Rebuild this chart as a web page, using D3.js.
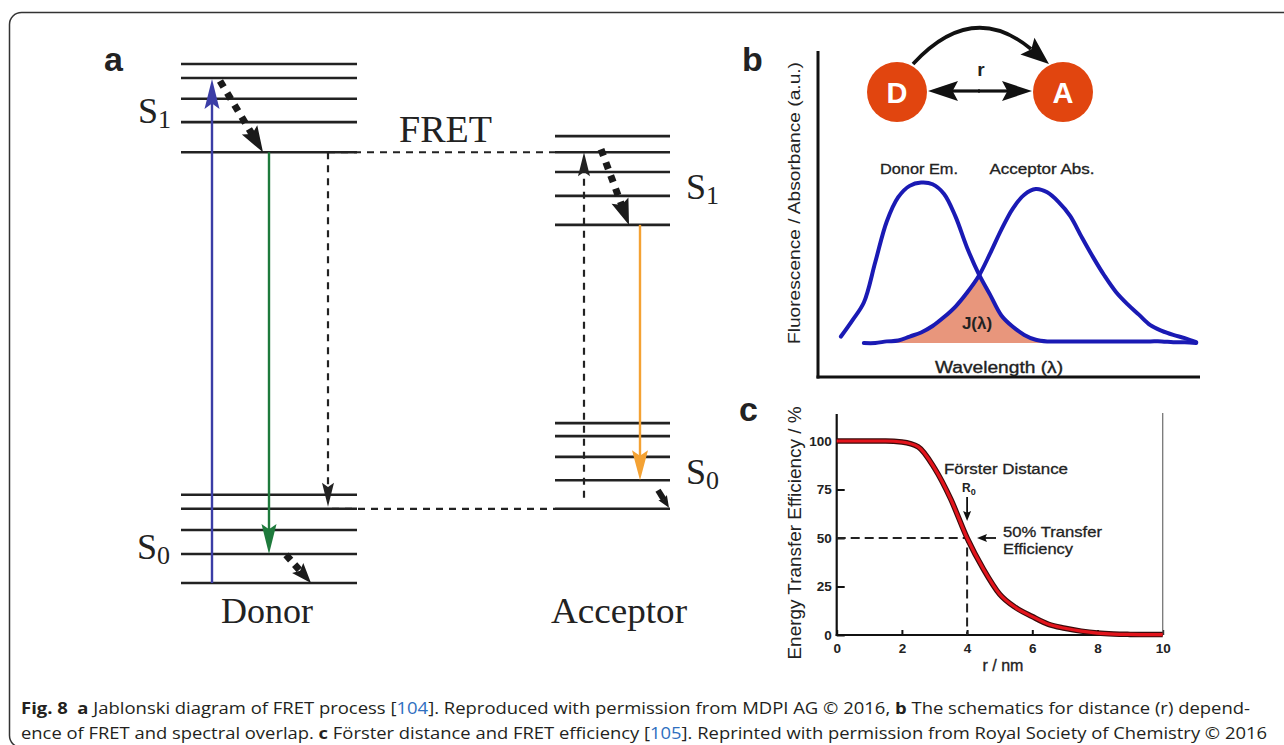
<!DOCTYPE html>
<html>
<head>
<meta charset="utf-8">
<script src="https://cdn.jsdelivr.net/npm/d3@7"></script>
<style>
  body { margin: 0; background: #fff; }
  svg text { font-family: "Liberation Sans", Arial, sans-serif; fill: #222; }
  .serif { font-family: "Liberation Serif", "Times New Roman", serif; }
</style>
</head>
<body>
<div id="container"></div>
<script>
/* DATA */

// panel a : energy levels (arbitrary energy units)
var donorS1 = [10.0, 9.73, 9.33, 8.88, 8.30];
var donorS0 = [1.70, 1.43, 1.02, 0.56, 0];
var acceptorS1 = [8.61, 8.30, 7.92, 7.46, 6.90];
var acceptorS0 = [3.08, 2.83, 2.43, 1.98, 1.43];

// panel b : spectra (arbitrary wavelength / intensity)
var wavelength = [6, 9, 12, 15, 18, 21, 24, 27, 30, 33, 36, 39, 42, 45, 48, 51,
                  54, 57, 60, 63, 66, 69, 72, 75, 78, 81, 84, 87, 90, 93, 96, 99];
var donorEm = [0.04, 0.14, 0.25, 0.50, 0.75, 0.90, 0.97, 0.99, 0.98, 0.92, 0.78, 0.59,
               0.43, 0.30, 0.17, 0.10, 0.05, 0.02, 0.01, 0.01, 0.01, 0.01, 0.01, 0.01,
               0.01, 0.01, 0.01, 0.01, 0.01, 0.005, 0.005, 0.0];
var acceptorAbs = [null, null, 0.0, 0.0, 0.01, 0.015, 0.04, 0.065, 0.105, 0.16, 0.225, 0.31,
                   0.41, 0.55, 0.70, 0.83, 0.915, 0.95, 0.93, 0.87, 0.785, 0.655, 0.53, 0.415,
                   0.315, 0.24, 0.175, 0.11, 0.075, 0.05, 0.03, 0.005];

// panel c : FRET efficiency vs distance
var distance = [0, 0.5, 1, 1.5, 2, 2.5, 3, 3.5, 4, 4.5, 5, 5.5, 6, 6.5, 7, 7.5, 8, 8.5, 9, 9.5, 10];
var efficiency = [100, 100, 100, 100, 99.5, 97, 86, 70, 50, 34, 21, 14, 9.5, 5.5, 3.5, 2, 1, 0.5, 0.3, 0.2, 0.2];
var xTicksC = [0, 2, 4, 6, 8, 10];
var yTicksC = [0, 25, 50, 75, 100];
var r0 = 4;

// caption
var captionLine1 = [
  { t: "Fig. 8", b: true }, { t: "\u00a0\u00a0" }, { t: "a", b: true },
  { t: " Jablonski diagram of FRET process [" }, { t: "104", link: true },
  { t: "]. Reproduced with permission from MDPI AG \u00a9 2016, " }, { t: "b", b: true },
  { t: " The schematics for distance (r) depend-" }
];
var captionLine2 = [
  { t: "ence of FRET and spectral overlap. " }, { t: "c", b: true },
  { t: " F\u00f6rster distance and FRET efficiency [" }, { t: "105", link: true },
  { t: "]. Reprinted with permission from Royal Society of Chemistry \u00a9 2016" }
];

/* HELPERS */

function arrowHead(g, tip, dir, len, wid, color) {
  var c = Math.cos(dir), s = Math.sin(dir);
  var pts = [[0, 0], [-len, -wid / 2], [-len * 0.82, 0], [-len, wid / 2]];
  var p = pts.map(function(d) { return [tip[0] + d[0] * c - d[1] * s, tip[1] + d[0] * s + d[1] * c]; });
  g.append("path").attr("d", "M" + p.join("L") + "Z").attr("fill", color);
}

// line from a to b with a head at b
function arrow(g, a, b, o) {
  var dir = Math.atan2(b[1] - a[1], b[0] - a[0]);
  var back = o.len * 0.8;
  g.append("line")
    .attr("x1", a[0]).attr("y1", a[1])
    .attr("x2", b[0] - back * Math.cos(dir)).attr("y2", b[1] - back * Math.sin(dir))
    .attr("stroke", o.color)
    .attr("stroke-width", o.width)
    .attr("stroke-dasharray", o.dash || null);
  arrowHead(g, b, dir, o.len, o.wid, o.color);
}

/* SVG */

var svg = d3.select("#container")
  .append("svg")
  .attr("width", 1284)
  .attr("height", 745);

// rounded frame around the figure
svg.append("rect")
  .attr("x", 9.5).attr("y", 12.5)
  .attr("width", 1320).attr("height", 735)
  .attr("rx", 12)
  .attr("fill", "none")
  .attr("stroke", "#333")
  .attr("stroke-width", 1.5);

/* PANEL A : Jablonski diagram */

var ga = svg.append("g");
var yA = d3.scaleLinear().domain([0, 10]).range([583, 64]);
var donorX = [181, 357], accX = [555, 670];

var levels = donorS1.concat(donorS0).map(function(e) { return { e: e, x: donorX }; })
  .concat(acceptorS1.concat(acceptorS0).map(function(e) { return { e: e, x: accX }; }));

ga.selectAll("line.level")
  .data(levels)
  .enter()
  .append("line")
  .attr("class", "level")
  .attr("x1", d => d.x[0])
  .attr("x2", d => d.x[1])
  .attr("y1", d => yA(d.e))
  .attr("y2", d => yA(d.e))
  .attr("stroke", "#222")
  .attr("stroke-width", 2.6);

// FRET dashed path
var dashed = { color: "#222", width: 2.2, dash: "7,6", len: 24, wid: 12 };
ga.append("line")
  .attr("x1", 328).attr("x2", accX[0])
  .attr("y1", yA(donorS1[4])).attr("y2", yA(donorS1[4]))
  .attr("stroke", "#222").attr("stroke-width", 2.2).attr("stroke-dasharray", "7,6");
ga.append("line")
  .attr("x1", 332).attr("x2", accX[0])
  .attr("y1", yA(donorS0[1])).attr("y2", yA(donorS0[1]))
  .attr("stroke", "#222").attr("stroke-width", 2.2).attr("stroke-dasharray", "7,6");
arrow(ga, [328, yA(donorS1[4])], [328, yA(donorS0[1]) - 2], dashed);
arrow(ga, [584, yA(acceptorS0[4]) - 11], [584, yA(acceptorS1[1])], dashed);

// radiative transitions
arrow(ga, [212, yA(donorS0[4])], [212, yA(donorS1[1]) + 1],
  { color: "#3b3da6", width: 2.4, len: 30, wid: 15 });
arrow(ga, [269, yA(donorS1[4])], [269, yA(donorS0[3])],
  { color: "#1e7a3c", width: 2.4, len: 30, wid: 15 });
arrow(ga, [640, yA(acceptorS1[4])], [640, yA(acceptorS0[3])],
  { color: "#f4a233", width: 2.4, len: 30, wid: 16 });

// vibrational relaxation (thick dotted)
var dotted = { color: "#1a1a1a", width: 7, dash: "7,7", len: 26, wid: 18 };
arrow(ga, [220, yA(donorS1[1]) + 3], [263, yA(donorS1[4])], dotted);
arrow(ga, [601, yA(acceptorS1[1]) - 3], [629, yA(acceptorS1[4])], dotted);
arrow(ga, [286, yA(donorS0[3]) + 1], [311, yA(donorS0[4])], { color: "#1a1a1a", width: 7, dash: "7,6", len: 20, wid: 15 });
arrow(ga, [658, yA(acceptorS0[3]) + 10], [669, yA(acceptorS0[4]) - 1], { color: "#1a1a1a", width: 6, len: 12, wid: 10 });

// labels
ga.append("text").attr("x", 104).attr("y", 71)
  .style("font-size", "34px").style("font-weight", "bold").text("a");

function stateLabel(x, y, sub) {
  var t = ga.append("text").attr("class", "serif").attr("x", x).attr("y", y).style("font-size", "36px");
  t.append("tspan").text("S");
  t.append("tspan").attr("dy", 5).style("font-size", "26px").text(sub);
}
stateLabel(138, 123, "1");
stateLabel(137, 559, "0");
stateLabel(686, 199, "1");
stateLabel(686, 484, "0");

ga.append("text").attr("class", "serif").attr("x", 399).attr("y", 142)
  .attr("textLength", 93).attr("lengthAdjust", "spacingAndGlyphs")
  .style("font-size", "38px").text("FRET");
ga.append("text").attr("class", "serif").attr("x", 221).attr("y", 623)
  .attr("textLength", 92).attr("lengthAdjust", "spacingAndGlyphs")
  .style("font-size", "35px").text("Donor");
ga.append("text").attr("class", "serif").attr("x", 551).attr("y", 623)
  .attr("textLength", 136).attr("lengthAdjust", "spacingAndGlyphs")
  .style("font-size", "35px").text("Acceptor");

/* PANEL B : spectral overlap */

var gb = svg.append("g");
var xB = d3.scaleLinear().domain([0, 100]).range([818, 1200]);
var yB = d3.scaleLinear().domain([0, 1]).range([343, 181]);

gb.append("text").attr("x", 742).attr("y", 71)
  .style("font-size", "34px").style("font-weight", "bold").text("b");

var specData = wavelength.map(function(w, i) {
  return { w: w, d: donorEm[i], a: acceptorAbs[i] };
});

// overlap integral J(lambda)
gb.append("path")
  .datum(specData.filter(d => d.a !== null))
  .attr("d", d3.area()
    .x(d => xB(d.w))
    .y0(yB(0))
    .y1(d => yB(Math.min(d.d, d.a)))
    .curve(d3.curveCatmullRom))
  .attr("fill", "#e8967c");

gb.append("path")
  .datum(specData)
  .attr("d", d3.line().x(d => xB(d.w)).y(d => yB(d.d)).curve(d3.curveCatmullRom))
  .attr("fill", "none").attr("stroke", "#1a1ab4").attr("stroke-width", 4)
  .attr("stroke-linecap", "round");
gb.append("path")
  .datum(specData.filter(d => d.a !== null))
  .attr("d", d3.line().x(d => xB(d.w)).y(d => yB(d.a)).curve(d3.curveCatmullRom))
  .attr("fill", "none").attr("stroke", "#1a1ab4").attr("stroke-width", 4)
  .attr("stroke-linecap", "round");

// frame axes
gb.append("line").attr("x1", 818).attr("x2", 818).attr("y1", 51).attr("y2", 378.5)
  .attr("stroke", "#111").attr("stroke-width", 3);
gb.append("line").attr("x1", 816.5).attr("x2", 1200).attr("y1", 377).attr("y2", 377)
  .attr("stroke", "#111").attr("stroke-width", 3);

gb.append("text").attr("transform", "translate(800,203) rotate(-90)")
  .attr("text-anchor", "middle")
  .attr("textLength", 282).attr("lengthAdjust", "spacingAndGlyphs")
  .style("font-size", "17px").text("Fluorescence / Absorbance (a.u.)");
gb.append("text").attr("x", 999).attr("y", 373).attr("text-anchor", "middle")
  .attr("textLength", 128).attr("lengthAdjust", "spacingAndGlyphs")
  .style("font-size", "16px").style("stroke", "#222").style("stroke-width", 0.35)
  .text("Wavelength (\u03bb)");
gb.append("text").attr("x", 919).attr("y", 174).attr("text-anchor", "middle")
  .attr("textLength", 78).attr("lengthAdjust", "spacingAndGlyphs")
  .style("font-size", "14px").style("stroke", "#222").style("stroke-width", 0.3)
  .text("Donor Em.");
gb.append("text").attr("x", 1042).attr("y", 174).attr("text-anchor", "middle")
  .attr("textLength", 105).attr("lengthAdjust", "spacingAndGlyphs")
  .style("font-size", "14px").style("stroke", "#222").style("stroke-width", 0.3)
  .text("Acceptor Abs.");
gb.append("text").attr("x", 977).attr("y", 329).attr("text-anchor", "middle")
  .style("font-size", "17px").style("font-weight", "bold").text("J(\u03bb)");

// D and A schematic
var dots = [{ k: "D", x: 897 }, { k: "A", x: 1063 }];
gb.selectAll("circle.dot")
  .data(dots)
  .enter()
  .append("circle")
  .attr("class", "dot")
  .attr("cx", d => d.x).attr("cy", 92).attr("r", 30)
  .attr("fill", "#e1450f");
gb.selectAll("text.dot")
  .data(dots)
  .enter()
  .append("text")
  .attr("class", "dot")
  .attr("x", d => d.x).attr("y", 103)
  .attr("text-anchor", "middle")
  .style("font-size", "29px").style("font-weight", "bold").style("fill", "#fff")
  .text(d => d.k);

var blk = { color: "#111", width: 3.2, len: 30, wid: 20 };
arrow(gb, [980, 91], [928, 91], blk);
arrow(gb, [978, 91], [1032, 91], blk);
gb.append("text").attr("x", 981).attr("y", 76).attr("text-anchor", "middle")
  .style("font-size", "19px").style("font-weight", "bold").text("r");

gb.append("path")
  .attr("d", "M913,64 Q972,0 1031,49")
  .attr("fill", "none").attr("stroke", "#111").attr("stroke-width", 3.6);
arrowHead(gb, [1049, 64], Math.atan2(48, 58), 28, 22, "#111");

/* PANEL C : efficiency vs distance */

var gc = svg.append("g");
var xC = d3.scaleLinear().domain([0, 10]).range([836.7, 1162.7]);
var yC = d3.scaleLinear().domain([0, 100]).range([635, 441]);

gc.append("text").attr("x", 739).attr("y", 421)
  .style("font-size", "34px").style("font-weight", "bold").text("c");

gc.append("g")
  .attr("transform", "translate(" + xC(0) + ",0)")
  .call(d3.axisLeft(yC).tickValues(yTicksC).tickSize(-8).tickPadding(5))
  .call(g => g.select(".domain").remove())
  .call(g => g.selectAll("line").attr("stroke", "#111").attr("stroke-width", 2))
  .call(g => g.selectAll("text").style("font-size", "13.5px").style("font-weight", "bold")
    .style("font-family", "'Liberation Sans', Arial, sans-serif").attr("fill", "#222"));

gc.append("g")
  .attr("transform", "translate(0," + yC(0) + ")")
  .call(d3.axisBottom(xC).tickValues(xTicksC).tickSize(-5).tickPadding(8))
  .call(g => g.select(".domain").remove())
  .call(g => g.selectAll("line").attr("stroke", "#111").attr("stroke-width", 2))
  .call(g => g.selectAll("text").style("font-size", "13.5px").style("font-weight", "bold")
    .style("font-family", "'Liberation Sans', Arial, sans-serif").attr("fill", "#222"));

gc.append("line").attr("x1", xC(0)).attr("x2", xC(0)).attr("y1", 414).attr("y2", yC(0) + 1)
  .attr("stroke", "#111").attr("stroke-width", 2.2);
gc.append("line").attr("x1", xC(0) - 1).attr("x2", xC(10)).attr("y1", yC(0)).attr("y2", yC(0))
  .attr("stroke", "#111").attr("stroke-width", 2.2);
gc.append("line").attr("x1", xC(10)).attr("x2", xC(10)).attr("y1", 413).attr("y2", yC(0))
  .attr("stroke", "#777").attr("stroke-width", 1.3);

// R0 guide lines
gc.append("path")
  .attr("d", "M" + xC(0) + "," + yC(50) + "H" + xC(r0) + "V" + yC(0))
  .attr("fill", "none").attr("stroke", "#222").attr("stroke-width", 2)
  .attr("stroke-dasharray", "9,5");

var effData = distance.map(function(r, i) { return { r: r, e: efficiency[i] }; });
var effLine = d3.line().x(d => xC(d.r)).y(d => yC(d.e)).curve(d3.curveMonotoneX);
gc.append("path").datum(effData).attr("d", effLine)
  .attr("fill", "none").attr("stroke", "#3a0a0a").attr("stroke-width", 5.5);
gc.append("path").datum(effData).attr("d", effLine)
  .attr("fill", "none").attr("stroke", "#e3141c").attr("stroke-width", 3.2);

var small = { color: "#111", width: 1.8, len: 10, wid: 8 };
arrow(gc, [xC(r0), 497], [xC(r0), 521], small);
arrow(gc, [996, yC(50)], [977, yC(50)], small);

gc.append("text").attr("x", 944).attr("y", 474)
  .attr("textLength", 124).attr("lengthAdjust", "spacingAndGlyphs")
  .style("font-size", "15.5px").style("stroke", "#222").style("stroke-width", 0.3)
  .text("F\u00f6rster Distance");
var r0t = gc.append("text").attr("x", 962).attr("y", 492)
  .style("font-size", "12px").style("font-weight", "bold");
r0t.append("tspan").text("R");
r0t.append("tspan").attr("dy", 3).style("font-size", "9px").text("0");
gc.append("text").attr("x", 1003).attr("y", 537)
  .attr("textLength", 99).attr("lengthAdjust", "spacingAndGlyphs")
  .style("font-size", "15px").style("stroke", "#222").style("stroke-width", 0.3)
  .text("50% Transfer");
gc.append("text").attr("x", 1003).attr("y", 554)
  .attr("textLength", 70).attr("lengthAdjust", "spacingAndGlyphs")
  .style("font-size", "15px").style("stroke", "#222").style("stroke-width", 0.3)
  .text("Efficiency");

gc.append("text").attr("x", 1003).attr("y", 671).attr("text-anchor", "middle")
  .style("font-size", "16px").style("stroke", "#222").style("stroke-width", 0.35)
  .text("r / nm");
gc.append("text").attr("transform", "translate(801,533) rotate(-90)")
  .attr("text-anchor", "middle")
  .attr("textLength", 253).attr("lengthAdjust", "spacingAndGlyphs")
  .style("font-size", "18px").text("Energy Transfer Efficiency / %");

/* CAPTION */

function captionLine(parts, y, len) {
  var t = svg.append("text")
    .attr("x", 21).attr("y", y)
    .attr("textLength", len).attr("lengthAdjust", "spacingAndGlyphs")
    .style("font-family", "'Open Sans', 'Noto Sans', sans-serif")
    .style("font-size", "16.5px");
  t.selectAll("tspan")
    .data(parts)
    .enter()
    .append("tspan")
    .style("font-weight", d => d.b ? "bold" : "normal")
    .style("fill", d => d.link ? "#2f6fbf" : "#231f20")
    .text(d => d.t);
}
captionLine(captionLine1, 714, 1229);
captionLine(captionLine2, 739, 1246);
</script>
</body>
</html>
